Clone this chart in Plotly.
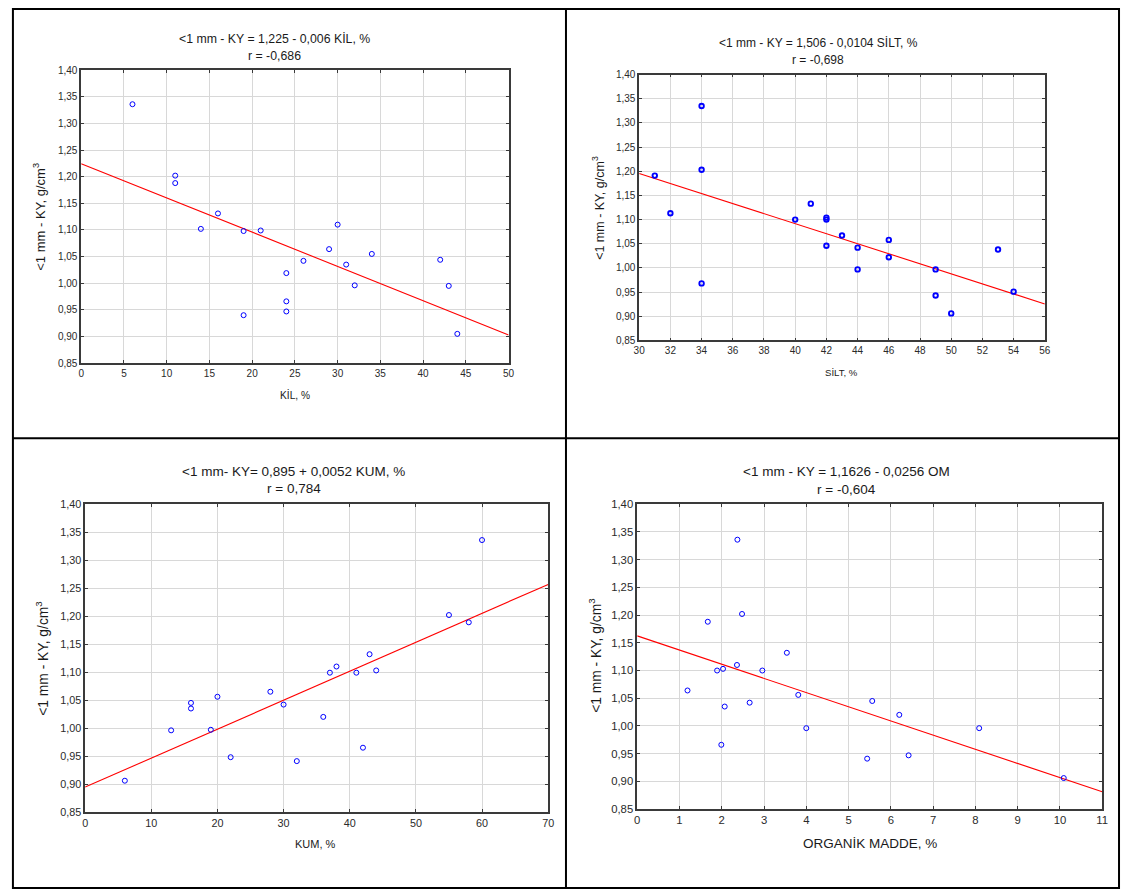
import numpy as np
import plotly.graph_objects as go

W, H = 1127, 895

# <1 mm bulk density (KY, g/cm3) paired with each soil property
kil_pct = [6, 11, 11, 16, 14, 19, 21, 30, 29, 34, 26, 31, 24, 32, 24, 24, 19, 42, 43, 44]
kil_ky = [1.336, 1.202, 1.188, 1.131, 1.102, 1.098, 1.099, 1.110, 1.064, 1.055,
          1.042, 1.035, 1.019, 0.996, 0.966, 0.947, 0.940, 1.044, 0.995, 0.905]

silt_pct = [31, 32, 34, 34, 34, 40, 41, 42, 42, 42, 43, 44, 44, 46, 46, 49, 49, 50, 53, 54]
silt_ky = [1.191, 1.113, 1.335, 1.203, 0.968, 1.100, 1.133, 1.104, 1.100, 1.046,
           1.067, 1.042, 0.997, 1.058, 1.022, 0.997, 0.943, 0.906, 1.038, 0.951]

kum_pct = [6, 13, 16, 16, 20, 19, 22, 28, 30, 32, 36, 37, 38, 41, 42, 43, 44, 55, 58, 60]
kum_ky = [0.906, 0.996, 1.045, 1.035, 1.056, 0.997, 0.948, 1.065, 1.042, 0.941,
          1.020, 1.099, 1.110, 1.099, 0.965, 1.132, 1.103, 1.202, 1.189, 1.336]

om_pct = [1.19, 1.67, 1.89, 2.03, 1.99, 2.07, 2.37, 2.36, 2.48, 2.66,
          2.96, 3.54, 3.81, 4.00, 5.44, 5.56, 6.20, 6.42, 8.09, 10.09]
om_ky = [1.064, 1.188, 1.100, 1.103, 0.966, 1.035, 1.336, 1.110, 1.202, 1.042,
         1.100, 1.132, 1.056, 0.996, 0.941, 1.045, 1.020, 0.947, 0.996, 0.906]

titles = [
    ("&lt;1 mm - KY = 1,225 - 0,006 KİL, %", "r = -0,686"),
    ("&lt;1 mm - KY = 1,506 - 0,0104 SİLT, %", "r = -0,698"),
    ("&lt;1 mm- KY= 0,895 + 0,0052 KUM, %", "r = 0,784"),
    ("&lt;1 mm - KY = 1,1626 - 0,0256 OM", "r = -0,604"),
]
x_titles = ["KİL, %", "SİLT, %", "KUM, %", "ORGANİK MADDE, %"]
y_title = "&lt;1 mm - KY, g/cm<sup>3</sup>"
x_ranges = [(0, 50), (30, 56), (0, 70), (0, 11)]
x_steps = [5, 2, 10, 1]
y_range = (0.85, 1.40)

# Per-panel layout in pixels: plot box, title/label anchor positions, font sizes
panels = [
    dict(x=kil_pct, y=kil_ky, box=(76, 65, 508, 362), tx=271, ty=(33, 51),
         ytx=(34, 214), xtx=(292, 394), tfs=12.3, yfs=13, xfs=10.2, kfs=10,
         msize=5, mline=1.0),
    dict(x=silt_pct, y=silt_ky, box=(640, 69.5, 1050, 339), tx=821, ty=(37, 55),
         ytx=(599, 205), xtx=(844, 371), tfs=12, yfs=12.5, xfs=9.6, kfs=10,
         msize=4.5, mline=1.9),
    dict(x=kum_pct, y=kum_ky, box=(80, 505, 548, 817), tx=291, ty=(472, 489),
         ytx=(37, 662), xtx=(313, 849), tfs=13.5, yfs=13.8, xfs=11, kfs=10.8,
         msize=5, mline=1.0),
    dict(x=om_pct, y=om_ky, box=(638, 505, 1108, 814), tx=850, ty=(472, 490),
         ytx=(596, 659), xtx=(873, 849), tfs=13.5, yfs=13.8, xfs=13.5, kfs=11.3,
         msize=5, mline=1.0),
]


def px(xp):
    return xp / W


def py(yp):
    return 1 - yp / H


FONT = "Liberation Sans, Arial, sans-serif"
fig = go.Figure()
annotations = []
layout = {}

for i, p in enumerate(panels):
    n = "" if i == 0 else str(i + 1)
    xa, ya = "x" + n, "y" + n
    x0, x1 = x_ranges[i]

    # fitted straight line across the full x range
    slope, intercept = np.polyfit(p["x"], p["y"], 1)
    lx = np.array([x0, x1], dtype=float)
    fig.add_trace(go.Scatter(x=lx, y=intercept + slope * lx, mode="lines",
                             line=dict(color="#ff0000", width=1.1),
                             xaxis=xa, yaxis=ya, showlegend=False, hoverinfo="skip"))
    fig.add_trace(go.Scatter(x=p["x"], y=p["y"], mode="markers",
                             marker=dict(symbol="circle-open", size=p["msize"],
                                         color="#0000ff", line=dict(width=p["mline"], color="#0000ff")),
                             xaxis=xa, yaxis=ya, showlegend=False))

    bx0, by0, bx1, by1 = p["box"]
    common = dict(showgrid=True, gridcolor="#d8d8d8", gridwidth=1, zeroline=False,
                  showline=True, linecolor="#3a3a3a", linewidth=1.5, mirror="ticks",
                  ticks="inside", ticklen=3, tickcolor="#3a3a3a",
                  tickfont=dict(family=FONT, size=p["kfs"], color="#2a2a2a"))
    layout["xaxis" + n] = dict(common, domain=[px(bx0), px(bx1)], range=[x0, x1],
                               tick0=x0, dtick=x_steps[i], anchor=ya)
    layout["yaxis" + n] = dict(common, domain=[py(by1), py(by0)], range=list(y_range),
                               tick0=0.85, dtick=0.05, tickformat=".2f", anchor=xa)

    t1, t2 = titles[i]
    for txt, yy in ((t1, p["ty"][0]), (t2, p["ty"][1])):
        annotations.append(dict(text=txt, x=px(p["tx"]), y=py(yy), xref="paper", yref="paper",
                                xanchor="center", yanchor="middle", showarrow=False,
                                font=dict(family=FONT, size=p["tfs"], color="#1a1a1a")))
    annotations.append(dict(text=y_title, x=px(p["ytx"][0]), y=py(p["ytx"][1]),
                            xref="paper", yref="paper", xanchor="center", yanchor="middle",
                            textangle=-90, showarrow=False,
                            font=dict(family=FONT, size=p["yfs"], color="#1a1a1a")))
    annotations.append(dict(text=x_titles[i], x=px(p["xtx"][0]), y=py(p["xtx"][1]),
                            xref="paper", yref="paper", xanchor="center", yanchor="middle",
                            showarrow=False,
                            font=dict(family=FONT, size=p["xfs"], color="#1a1a1a")))

# panel frame: outer box plus the two dividers
border = dict(color="#000000", width=2)
shapes = [
    dict(type="rect", xref="paper", yref="paper", x0=px(7), x1=px(1125), y0=py(894), y1=py(3), line=border),
    dict(type="line", xref="paper", yref="paper", x0=px(566), x1=px(566), y0=py(894), y1=py(3), line=border),
    dict(type="line", xref="paper", yref="paper", x0=px(7), x1=px(1125), y0=py(438), y1=py(438), line=border),
]

fig.update_layout(
    width=W, height=H, margin=dict(l=0, r=0, t=0, b=0),
    paper_bgcolor="white", plot_bgcolor="white",
    separators=",.", annotations=annotations, shapes=shapes,
    font=dict(family=FONT, color="#1a1a1a"),
    **layout,
)

fig.write_html("out.html")
